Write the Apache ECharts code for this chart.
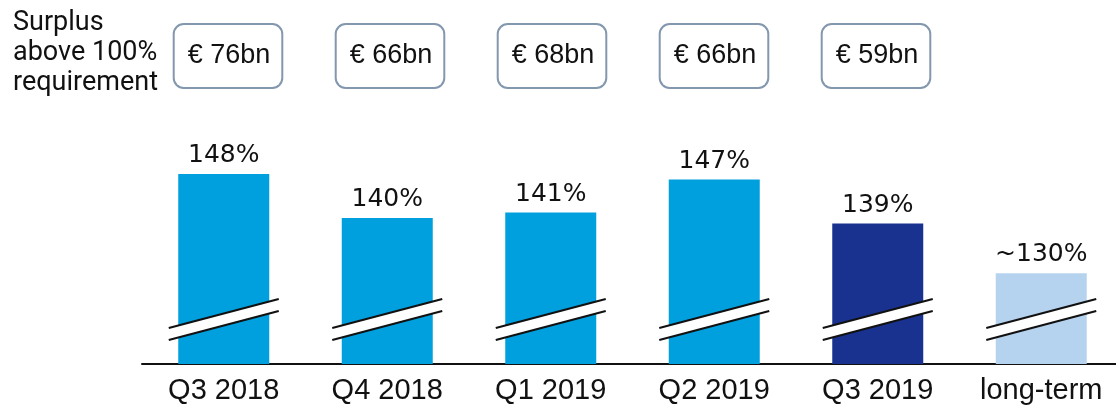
<!DOCTYPE html>
<html>
<head>
<meta charset="utf-8">
<script src="https://cdn.jsdelivr.net/npm/echarts@6/dist/echarts.min.js"></script>
<style>
  html, body { margin: 0; padding: 0; background: #fff; }
  #main { width: 1116px; height: 407px; }
</style>
</head>
<body>
<div id="main"></div>
<script>
// data
var categories = ['Q3 2018', 'Q4 2018', 'Q1 2019', 'Q2 2019', 'Q3 2019', 'long-term']
var ratios = [148, 140, 141, 147, 139, 130]
var ratioLabels = ['148%', '140%', '141%', '147%', '139%', '~130%']
var surplusBn = [76, 66, 68, 66, 59]

// colours
var barColors = ['#009fdd', '#009fdd', '#009fdd', '#009fdd', '#19328f', '#b5d3ef']

var chart = echarts.init(document.getElementById('main'))

var topLabels = categories.map(function(c, i) {
  if (surplusBn[i] == null) {
    return { value: '', textStyle: { backgroundColor: 'transparent', borderWidth: 0 } }
  }
  return '€ ' + surplusBn[i] + 'bn'
})

// break marks drawn over each bar
function renderBreak(params, api) {
  var idx = api.value(0)
  var base = api.coord([idx, api.value(1)])
  var cx = base[0]
  var yc = base[1] - 44.5
  var hw = 55
  var dy = 14.5
  var gap = 6
  return {
    type: 'group',
    children: [
      {
        type: 'polygon',
        shape: { points: [
          [cx - hw, yc - gap + dy], [cx + hw, yc - gap - dy],
          [cx + hw, yc + gap - dy], [cx - hw, yc + gap + dy]
        ] },
        style: { fill: '#fff' }
      },
      {
        type: 'line',
        shape: { x1: cx - hw, y1: yc - gap + dy, x2: cx + hw, y2: yc - gap - dy },
        style: { stroke: '#111', lineWidth: 2 }
      },
      {
        type: 'line',
        shape: { x1: cx - hw, y1: yc + gap + dy, x2: cx + hw, y2: yc + gap - dy },
        style: { stroke: '#111', lineWidth: 2 }
      }
    ]
  }
}

var yMin = 113.5

var option = {
  animation: false,
  title: {
    text: 'Surplus\nabove 100%\nrequirement',
    left: 13,
    top: 8,
    padding: 0,
    textStyle: {
      fontFamily: 'Roboto',
      fontSize: 27,
      fontWeight: 'normal',
      lineHeight: 30,
      color: '#111'
    }
  },
  grid: [
    { left: 142, width: 981, top: 108, bottom: 43, outerBoundsMode: 'none' },
    { left: 147, width: 972, top: 108, height: 10, outerBoundsMode: 'none' }
  ],
  xAxis: [
    {
      type: 'category',
      gridIndex: 0,
      data: categories,
      axisLine: { lineStyle: { color: '#111', width: 2 } },
      axisTick: { show: false },
      axisLabel: {
        margin: 12,
        fontFamily: 'Liberation Sans',
        fontSize: 29,
        color: '#111'
      }
    },
    {
      type: 'category',
      gridIndex: 1,
      position: 'top',
      data: topLabels,
      axisLine: { show: false },
      axisTick: { show: false },
      axisLabel: {
        margin: 21,
        fontFamily: 'Liberation Sans',
        fontSize: 27,
        lineHeight: 30,
        color: '#111',
        backgroundColor: '#fff',
        borderColor: '#8397ae',
        borderWidth: 2,
        borderRadius: 9,
        padding: [16, 11, 16, 13]
      }
    }
  ],
  yAxis: [
    {
      type: 'value',
      gridIndex: 0,
      min: yMin,
      max: 160,
      show: false,
      splitLine: { show: false }
    },
    {
      type: 'value',
      gridIndex: 1,
      show: false
    }
  ],
  series: [
    {
      type: 'bar',
      barWidth: 91,
      data: ratios.map(function(v, i) {
        return { value: v, itemStyle: { color: barColors[i] } }
      }),
      label: {
        show: true,
        position: 'top',
        distance: 6,
        fontFamily: 'DejaVu Sans',
        fontSize: 25,
        color: '#111',
        formatter: function(p) { return ratioLabels[p.dataIndex] }
      }
    },
    {
      type: 'custom',
      renderItem: renderBreak,
      data: categories.map(function(c, i) { return [i, yMin] }),
      z: 5
    }
  ]
}

chart.setOption(option)
</script>
</body>
</html>
